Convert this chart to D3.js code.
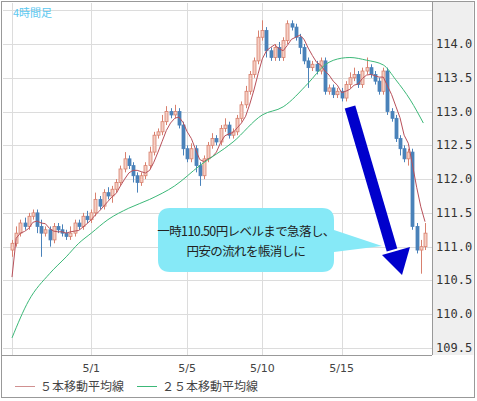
<!DOCTYPE html>
<html><head><meta charset="utf-8">
<script src="https://cdn.jsdelivr.net/npm/d3@7"></script>
<style>body{margin:0;background:#fff}</style>
</head><body>
<script>
// 4-hour closes
var closes = [
  111.05,111.2,111.35,111.3,111.45, 111.5,111.3,111.2,111.25,111.1,
  111.3,111.25,111.2,111.15,111.2, 111.35,111.3,111.45,111.4,111.5,
  111.7,111.6,111.8,111.75,111.85, 111.95,112.15,112.3,112.2,112.05,
  111.95,112.05,112.2,112.4,112.65, 112.7,112.85,113.0,112.95,113.0,
  112.8,112.45,112.3,112.45,112.2, 112.05,112.3,112.5,112.6,112.55,
  112.75,112.8,112.65,112.7,112.9, 113.1,113.3,113.55,113.75,114.1,
  114.2,113.9,113.8,113.95,113.8, 114.05,114.3,114.25,114.1,113.95,
  113.75,113.65,113.7,113.6,113.75, 113.3,113.35,113.25,113.3,113.2,
  113.4,113.5,113.55,113.4,113.6, 113.65,113.55,113.45,113.3,113.6,
  113.0,112.9,112.6,112.45,112.3, 112.4,111.3,110.95,111.0,111.2
];
var firstOpen = 110.95;
// wick lengths beyond the body
var wickUp = [
  .05,.1,.05,.08,.05, .05,.05,.1,.05,.05, .05,.05,.08,.05,.1, .05,.05,.05,.08,.05,
  .1,.05,.05,.08,.05, .05,.05,.1,.05,.05, .05,.05,.05,.08,.05, .05,.1,.08,.05,.1,
  .05,.05,.05,.08,.05, .05,.05,.05,.08,.05, .05,.1,.05,.05,.05, .05,.08,.05,.05,.1,
  .15,.05,.05,.05,.08, .05,.05,.05,.05,.05, .05,.05,.05,.05,.05, .05,.05,.05,.05,.05,
  .05,.08,.1,.05,.05, .15,.05,.05,.05,.05, .05,.05,.05,.05,.05, .05,.05,.05,.1,.15
];
var wickDn = [
  .1,.05,.05,.05,.05, .05,.1,.35,.05,.1, .05,.05,.05,.05,.05, .05,.05,.05,.05,.05,
  .05,.05,.05,.05,.1, .05,.05,.05,.05,.1, .15,.05,.05,.05,.05, .05,.05,.05,.05,.05,
  .05,.1,.05,.05,.1, .15,.05,.05,.05,.05, .05,.05,.05,.05,.05, .05,.05,.05,.05,.05,
  .05,.1,.05,.05,.05, .05,.05,.05,.05,.1, .05,.3,.05,.05,.05, .05,.05,.05,.05,.05,
  .05,.05,.05,.05,.05, .05,.05,.05,.05,.05, .05,.05,.05,.1,.05, .1,.05,.05,.35,.05
];
// 25-period MA
var ma25Idx = [0,4,9,13,16,19,23,28,33,39,45,53,60,65,71,75,79,81,85,89,92,95.5,98.6];
var ma25Val = [109.65,110.2,110.6,110.85,111.05,111.2,111.4,111.57,111.7,111.9,112.2,112.55,112.95,113.07,113.42,113.69,113.79,113.8,113.76,113.69,113.47,113.17,112.83];
var dateIdx = [0,19,42,60,79];
var dateLabels = ["","5/1","5/5","5/10","5/15"];
var priceTicks = [109.5,110,110.5,111,111.5,112,112.5,113,113.5,114];
var gridPrices = priceTicks.concat([114.5]);

var W = 477, H = 401, L = 3, R = 432, T = 3, B = 355;
var svg = d3.select("body").append("svg").attr("width", W).attr("height", H);
var x = d3.scaleLinear().domain([0, 99]).range([12, 425]);
var y = d3.scaleLinear().domain([109.5, 114]).range([348, 44]);

var candles = closes.map(function(c, i) {
  var o = i == 0 ? firstOpen : closes[i-1];
  return {i:i, o:o, c:c, h:Math.max(o,c)+wickUp[i], l:Math.min(o,c)-wickDn[i]};
});

svg.append("rect").attr("x",1.5).attr("y",1.5).attr("width",473).attr("height",396)
  .attr("fill","#fff").attr("stroke","#999");
svg.append("rect").attr("x",R).attr("y",2).attr("width",473.5-R).attr("height",B-2).attr("fill","#efefef");

var g = svg.append("g");
g.selectAll(".hg").data(gridPrices).enter().append("line")
  .attr("x1",L).attr("x2",R).attr("y1",d=>Math.round(y(d))+0.5).attr("y2",d=>Math.round(y(d))+0.5)
  .attr("stroke","#dcdcdc");
g.selectAll(".vg").data(dateIdx).enter().append("line")
  .attr("y1",T).attr("y2",B).attr("x1",d=>Math.round(x(d))+0.5).attr("x2",d=>Math.round(x(d))+0.5)
  .attr("stroke","#dcdcdc");
svg.append("line").attr("x1",R+0.5).attr("x2",R+0.5).attr("y1",2).attr("y2",B).attr("stroke","#999");
svg.append("line").attr("x1",2).attr("x2",R).attr("y1",B+0.5).attr("y2",B+0.5).attr("stroke","#999");

// candles
var cg = g.selectAll(".c").data(candles).enter().append("g");
cg.append("line").attr("x1",d=>Math.round(x(d.i))+0.5).attr("x2",d=>Math.round(x(d.i))+0.5)
  .attr("y1",d=>y(d.h)).attr("y2",d=>y(d.l))
  .attr("stroke",d=>d.c>=d.o?"#d8806e":"#4a82ba");
cg.append("rect").attr("x",d=>Math.round(x(d.i))-1).attr("width",3)
  .attr("y",d=>y(Math.max(d.o,d.c))).attr("height",d=>Math.max(1,Math.abs(y(d.o)-y(d.c))))
  .attr("fill",d=>d.c>=d.o?"#f6cfc4":"#4a82ba")
  .attr("stroke",d=>d.c>=d.o?"#d8806e":"#4a82ba").attr("stroke-width",0.8);

// moving averages
var ma5 = closes.map(function(c, i) {
  var s = closes.slice(Math.max(0,i-4), i+1);
  return {i:i, v:d3.mean(s)};
});
ma5[0].v = 110.55;
var line = d3.line().x(d=>x(d.i)).y(d=>y(d.v));
g.append("path").datum(ma5).attr("d",line).attr("fill","none").attr("stroke","#b8505a").attr("stroke-width",1);
g.append("path").datum(ma25Idx.map((d,k)=>({i:d,v:ma25Val[k]}))).attr("d",line.curve(d3.curveMonotoneX))
  .attr("fill","none").attr("stroke","#3cb878").attr("stroke-width",1);

// axes labels
svg.selectAll(".pt").data(priceTicks).enter().append("text")
  .attr("x",436).attr("y",d=>y(d)+4).text(d=>d.toFixed(1))
  .attr("font-family","DejaVu Sans Mono").attr("font-size",12).attr("fill","#333");
svg.selectAll(".dt").data(dateIdx).enter().append("text")
  .attr("x",d=>x(d)).attr("y",372).attr("text-anchor","middle").text((d,k)=>dateLabels[k])
  .attr("font-family","DejaVu Sans").attr("font-size",11).attr("fill","#444");
svg.append("text").attr("x",13).attr("y",17).text("4時間足")
  .attr("font-family","Noto Sans CJK JP").attr("font-size",11).attr("fill","#5bc8f0");

// legend
var leg = [{t:"５本移動平均線",c:"#d09090",x:15},{t:"２５本移動平均線",c:"#3cb878",x:137}];
leg.forEach(function(d){
  svg.append("line").attr("x1",d.x).attr("x2",d.x+20).attr("y1",386.5).attr("y2",386.5).attr("stroke",d.c);
  svg.append("text").attr("x",d.x+25).attr("y",391).text(d.t)
    .attr("font-family","Noto Sans CJK JP").attr("font-size",12).attr("fill","#444");
});

// callout
svg.append("path").attr("d","M170,208 H322 Q334,208 334,220 V230 L382,246 L334,252 V260 Q334,272 322,272 H170 Q158,272 158,260 V220 Q158,208 170,208 Z")
  .attr("fill","#86e9f7");
svg.append("text").attr("x",246).attr("y",236).attr("text-anchor","middle").text("一時110.50円レベルまで急落し、")
  .attr("font-family","Noto Sans CJK JP").attr("font-size",12.5).attr("fill","#222").attr("letter-spacing",-0.6);
svg.append("text").attr("x",246).attr("y",256).attr("text-anchor","middle").text("円安の流れを帳消しに")
  .attr("font-family","Noto Sans CJK JP").attr("font-size",12.5).attr("fill","#222").attr("letter-spacing",-0.6);

// arrow
svg.append("line").attr("x1",350).attr("y1",107).attr("x2",392).attr("y2",250)
  .attr("stroke","#0000cc").attr("stroke-width",11);
svg.append("path").attr("d","M382,255 L410,247 L402,275 Z").attr("fill","#0000cc");
</script>
</body></html>
